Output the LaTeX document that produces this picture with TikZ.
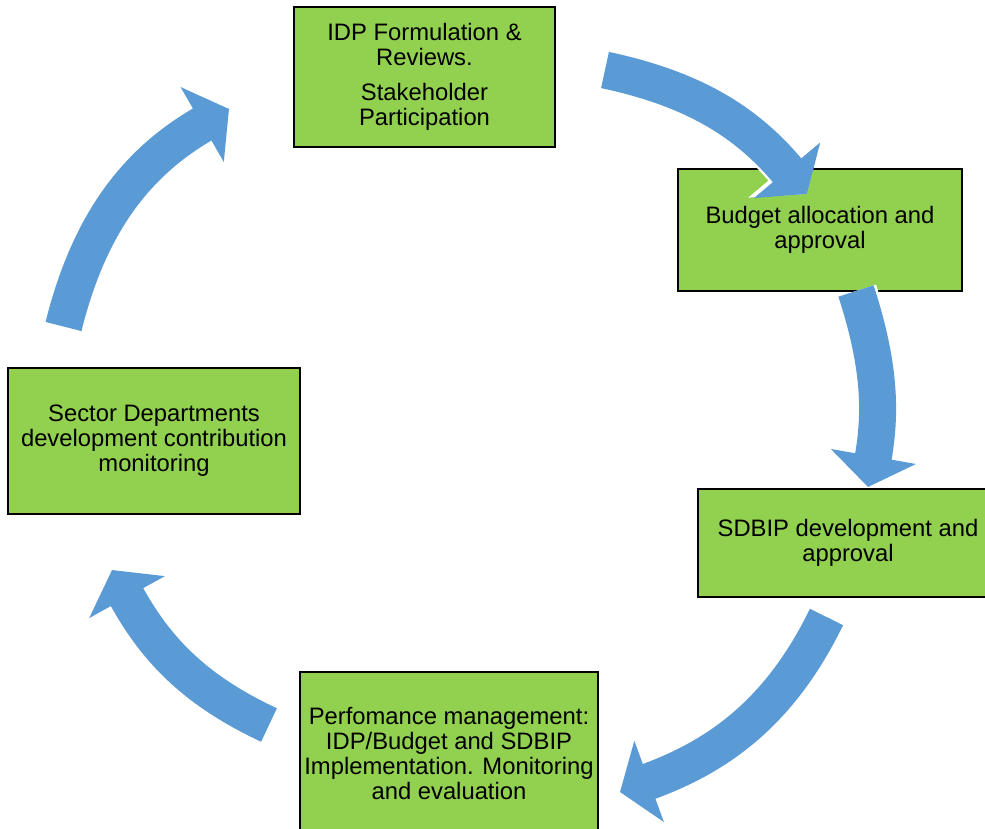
\documentclass[tikz,border=0pt]{standalone}
\usepackage{fontspec}
\setmainfont{Liberation Sans}
\usetikzlibrary{arrows.meta}
\definecolor{boxgreen}{HTML}{92D050}
\definecolor{arrowblue}{HTML}{5B9BD5}

\begin{document}
\begin{tikzpicture}[x=1pt, y=-1pt,
		stagebox/.style={draw=black, line width=2.5pt, fill=boxgreen, inner sep=0pt, align=center, font=\fontsize{23.8}{25}\selectfont},
		cyclearrow/.style={draw=arrowblue, line width=37pt, -{Triangle[width=85pt,length=31pt]}, preaction={draw=white, line width=42pt, -{Triangle[width=93pt,length=35pt]}}}]
		%%%%% START %%%%%
		\useasboundingbox (0, 0) rectangle (985, 829);
		\clip (0, 0) rectangle (985, 829);
		
		\node[stagebox, minimum width=261pt, minimum height=140pt] (idp) at (424.5, 77) {IDP Formulation \&\\ Reviews.\\[10pt] Stakeholder\\ Participation};
		\node[stagebox, minimum width=284pt, minimum height=122pt] (budget) at (820, 230) {Budget allocation and\\ approval};
		\node[stagebox, minimum width=300pt, minimum height=108pt] (sdbip) at (848, 543) {SDBIP development and\\ approval};
		\node[stagebox, minimum width=298pt, minimum height=163pt] (perf) at (449, 753.5) {Perfomance management:\\ IDP/Budget and SDBIP\\ Implementation. Monitoring\\ and evaluation};
		\node[stagebox, minimum width=292pt, minimum height=146pt] (sector) at (154, 441) {Sector Departments\\ development contribution\\ monitoring};
		
		\coordinate (idp-out) at (605, 70);
		\coordinate (budget-in) at (807, 194);
		\coordinate (budget-out) at (856, 291);
		\coordinate (sdbip-in) at (868, 487);
		\coordinate (sdbip-out) at (826.5, 617);
		\coordinate (perf-in) at (620, 792);
		\coordinate (perf-out) at (269, 725);
		\coordinate (sector-in) at (112, 570);
		\coordinate (sector-out) at (63.5, 326.5);
		\coordinate (idp-in) at (229, 109);
		
		\draw[cyclearrow] (idp-out) to[out=-12, in=130] (budget-in);
		\draw[cyclearrow] (budget-out) to[out=-72, in=80] (sdbip-in);
		\draw[cyclearrow] (sdbip-out) to[out=-116, in=20] (perf-in);
		\draw[cyclearrow] (perf-out) to[out=155, in=-61] (sector-in);
		\draw[cyclearrow] (sector-out) to[out=76, in=210] (idp-in);
		%%%%% END %%%%%
	\end{tikzpicture}
\end{document}
